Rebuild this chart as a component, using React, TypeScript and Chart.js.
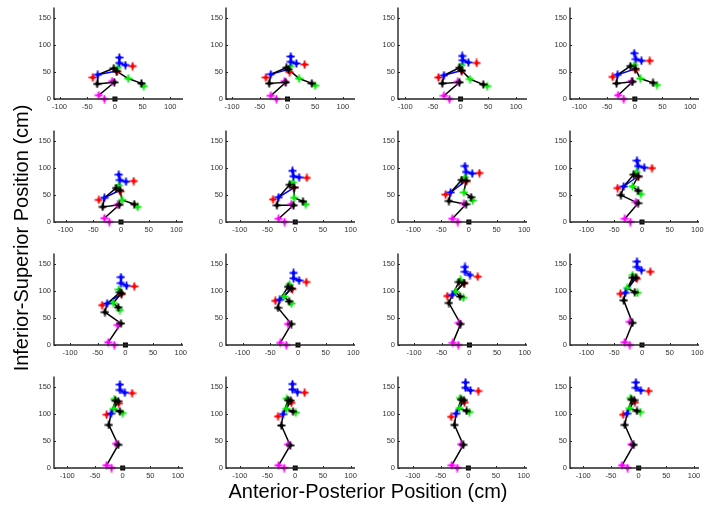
import React, { useEffect, useRef } from 'react';
import { Chart, registerables } from 'chart.js';

Chart.register(...registerables);

type P = [number, number];

// ---- axis data ----
const X_TICKS = [-100, -50, 0, 50, 100];
const Y_TICKS = [0, 50, 100, 150];
const X_MIN = [-110, -111, -113, -117, -121, -125, -128, -130, -129, -130, -129, -130, -124, -125, -127, -124];
const X_SPAN = 233;
const Y_MIN = 0;
const Y_MAX = 170;

// ---- marker data, one entry per panel (row by row) ----
const HEEL: P[] = [[-29, 7], [-30, 6], [-30, 6], [-30, 7], [-30, 7], [-30, 6], [-30, 6], [-31, 6], [-31, 5], [-32, 4], [-30, 4], [-31, 5], [-29, 5], [-30, 5], [-30, 5], [-30, 5]];
const TOE: P[] = [[-19, 0], [-20, 0], [-20, 0], [-20, 0], [-21, 0], [-19, 0], [-20, 0], [-21, 0], [-20, 0], [-21, 0], [-20, 0], [-22, 0], [-20, 0], [-20, 0], [-20, 0], [-20, 0]];
const KNEE_M: P[] = [[-5, 33], [-5, 33], [-5, 32], [-6, 33], [-6, 32], [-7, 33], [-9, 34], [-11, 37], [-14, 37], [-18, 39], [-19, 41], [-22, 43], [-12, 45], [-13, 44], [-13, 44], [-13, 44]];
const KNEE: P[] = [[-1, 31], [-3, 31], [-2, 31], [-4, 32], [-3, 32], [-3, 31], [-5, 33], [-7, 35], [-8, 40], [-12, 39], [-16, 39], [-17, 41], [-8, 43], [-9, 42], [-9, 43], [-9, 43]];
const HIP: P[] = [[-32, 28], [-33, 29], [-33, 29], [-33, 29], [-33, 28], [-33, 31], [-36, 39], [-38, 50], [-37, 61], [-36, 69], [-37, 78], [-33, 83], [-25, 80], [-25, 79], [-25, 80], [-25, 80]];
const BACK: P[] = [[-31, 45], [-30, 46], [-30, 44], [-31, 45], [-30, 45], [-30, 46], [-33, 55], [-33, 66], [-33, 77], [-33, 84], [-31, 93], [-30, 97], [-21, 101], [-22, 100], [-22, 101], [-21, 101]];
const BACK_R: P[] = [[-40, 40], [-39, 40], [-40, 40], [-40, 41], [-40, 41], [-40, 42], [-42, 51], [-44, 63], [-42, 74], [-41, 82], [-40, 91], [-39, 95], [-29, 99], [-31, 96], [-31, 95], [-28, 99]];
const SHOULDER: P[] = [[-2, 57], [-2, 58], [-2, 58], [-8, 61], [-9, 63], [-10, 69], [-13, 78], [-15, 88], [-10, 98], [-18, 108], [-19, 117], [-17, 125], [-13, 125], [-13, 126], [-13, 127], [-13, 127]];
const SHOULDER2: P[] = [[3, 52], [2, 55], [2, 53], [1, 56], [-2, 59], [-2, 64], [-5, 77], [-7, 85], [-7, 96], [-12, 105], [-10, 115], [-11, 125], [-8, 124], [-8, 125], [-8, 126], [-8, 126]];
const SHOULDER_G: P[] = [[5, 58], [5, 61], [2, 63], [-1, 63], [-4, 68], [-4, 74], [-7, 83], [-10, 93], [-12, 103], [-15, 112], [-16, 121], [-17, 130], [-15, 128], [-15, 129], [-15, 130], [-15, 130]];
const SHOULDER_R: P[] = [[4, 51], [4, 50], [2, 52], [1, 54], [-1, 57], [-2, 64], [-5, 75], [-7, 84], [-7, 94], [-10, 104], [-9, 115], [-9, 123], [-7, 120], [-7, 121], [-7, 122], [-7, 122]];
const ELBOW: P[] = [[24, 38], [21, 38], [17, 37], [10, 38], [2, 41], [-2, 45], [-9, 55], [-17, 66], [-22, 78], [-25, 90], [-25, 99], [-27, 106], [-16, 110], [-16, 110], [-16, 111], [-16, 111]];
const WRIST: P[] = [[48, 29], [44, 29], [41, 27], [33, 30], [24, 33], [14, 38], [4, 46], [-7, 58], [-13, 70], [-16, 81], [-17, 90], [-13, 98], [-5, 105], [-4, 105], [-3, 106], [-3, 106]];
const HAND: P[] = [[52, 24], [50, 25], [48, 24], [40, 26], [30, 28], [19, 33], [7, 40], [-2, 52], [-10, 65], [-12, 77], [-11, 88], [-8, 97], [0, 102], [1, 103], [2, 104], [3, 104]];
const HEAD_TOP: P[] = [[8, 77], [6, 79], [3, 80], [-1, 85], [-4, 88], [-5, 95], [-7, 104], [-9, 114], [-8, 126], [-8, 134], [-8, 145], [-9, 155], [-5, 155], [-5, 156], [-5, 159], [-5, 159]];
const HEAD_MID: P[] = [[8, 67], [6, 69], [4, 72], [2, 74], [-2, 78], [-3, 85], [-5, 93], [-7, 104], [-8, 115], [-8, 124], [-8, 136], [-9, 145], [-5, 145], [-5, 146], [-5, 149], [-5, 149]];
const HEAD_FRONT: P[] = [[19, 63], [16, 66], [14, 68], [12, 71], [9, 75], [7, 83], [6, 90], [4, 101], [2, 110], [2, 120], [1, 130], [-1, 139], [4, 140], [4, 141], [4, 144], [4, 144]];
const HEAD_R: P[] = [[32, 61], [31, 64], [29, 67], [27, 71], [23, 76], [21, 82], [19, 91], [18, 100], [16, 109], [15, 117], [15, 127], [15, 136], [17, 139], [17, 140], [18, 143], [18, 143]];
const ORIGIN: P = [0, 0];

// ---- layout ----
const COL_LEFT = [54, 226, 398, 570];
const ROW_ZERO = [99, 222, 345, 468];
const PLOT_W = 129;
const PLOT_H = 93;
const PAD_L = 40;
const PAD_T = 6;
const PAD_R = 8;
const PAD_B = 16;
const CW = PAD_L + PLOT_W + PAD_R;
const CH = PAD_T + PLOT_H + PAD_B;

const AXIS_COLOR = '#262626';
const TICK_COLOR = '#333333';
const FONT = '"Liberation Sans", Arial, sans-serif';

let markerCache: Record<string, HTMLCanvasElement> | null = null;
function markers() {
  if (markerCache) return markerCache;
  const plus = (color: string) => {
    const c = document.createElement('canvas');
    c.width = 9;
    c.height = 9;
    const g = c.getContext('2d')!;
    g.fillStyle = color;
    g.fillRect(0.5, 3.6, 8, 1.8);
    g.fillRect(3.6, 0.5, 1.8, 8);
    g.beginPath();
    g.moveTo(4.5, 1.8);
    g.lineTo(7.2, 4.5);
    g.lineTo(4.5, 7.2);
    g.lineTo(1.8, 4.5);
    g.closePath();
    g.fill();
    return c;
  };
  const sq = document.createElement('canvas');
  sq.width = 7;
  sq.height = 7;
  const g = sq.getContext('2d')!;
  g.fillStyle = '#000';
  g.fillRect(1, 1, 5, 5);
  g.fillStyle = '#444';
  g.fillRect(2.5, 2.5, 2, 2);
  markerCache = {
    black: plus('#000000'),
    blue: plus('#0000ff'),
    green: plus('#00ee00'),
    red: plus('#ff0000'),
    magenta: plus('#ff00ff'),
    square: sq,
  };
  return markerCache;
}

const axesPlugin = {
  id: 'matlabAxes',
  afterDraw(chart: any) {
    const { ctx, chartArea: a, scales } = chart;
    const x = scales.x;
    const y = scales.y;
    ctx.save();
    ctx.strokeStyle = AXIS_COLOR;
    ctx.lineWidth = 1.4;
    ctx.beginPath();
    ctx.moveTo(a.left, a.top);
    ctx.lineTo(a.left, a.bottom);
    ctx.lineTo(a.right, a.bottom);
    ctx.stroke();
    ctx.lineWidth = 1;
    X_TICKS.forEach((v) => {
      const px = Math.round(x.getPixelForValue(v)) + 0.5;
      ctx.beginPath();
      ctx.moveTo(px, a.bottom);
      ctx.lineTo(px, a.bottom - 2);
      ctx.stroke();
    });
    Y_TICKS.forEach((v) => {
      const py = Math.round(y.getPixelForValue(v)) + 0.5;
      ctx.beginPath();
      ctx.moveTo(a.left, py);
      ctx.lineTo(a.left + 2, py);
      ctx.stroke();
    });
    ctx.restore();
  },
};

function Panel({ idx }: { idx: number }) {
  const ref = useRef<HTMLCanvasElement>(null);
  const col = idx % 4;
  const row = Math.floor(idx / 4);
  const left = COL_LEFT[col] - PAD_L;
  const top = ROW_ZERO[row] - PLOT_H - PAD_T;

  useEffect(() => {
    const m = markers();
    const pt = (arr: P[]) => ({ x: arr[idx][0], y: arr[idx][1] });
    const line = (arrs: P[][], color: string) => ({
      data: arrs.map(pt),
      showLine: true,
      borderColor: color,
      borderWidth: 1.5,
      pointRadius: 0,
      fill: false,
      clip: false,
      order: 5,
    });
    const marks = (arrs: P[][], img: HTMLCanvasElement) => ({
      data: arrs.map(pt),
      showLine: false,
      pointStyle: img,
      pointRadius: 3,
      clip: false,
      order: 1,
    });
    const xmin = X_MIN[idx];
    const chart = new Chart(ref.current as HTMLCanvasElement, {
      type: 'scatter',
      data: {
        datasets: [
          line([HEEL, KNEE, HIP, BACK, SHOULDER], '#000000') as any,
          line([SHOULDER2, ELBOW, WRIST], '#000000') as any,
          line([BACK, SHOULDER2], '#0000ff') as any,
          line([HEAD_TOP, HEAD_MID, HEAD_FRONT], '#0000ff') as any,
          marks([KNEE, HIP, SHOULDER, SHOULDER2, WRIST], m.black) as any,
          marks([HEAD_TOP, HEAD_MID, HEAD_FRONT, BACK], m.blue) as any,
          marks([SHOULDER_G, ELBOW, HAND], m.green) as any,
          marks([BACK_R, SHOULDER_R, HEAD_R], m.red) as any,
          marks([HEEL, TOE, KNEE_M], m.magenta) as any,
          { data: [{ x: ORIGIN[0], y: ORIGIN[1] }], showLine: false, pointStyle: m.square, pointRadius: 3, clip: false, order: 0 } as any,
        ],
      },
      options: {
        animation: false,
        responsive: false,
        events: [],
        layout: { padding: { left: 0, top: PAD_T, right: PAD_R, bottom: 0 } },
        plugins: { legend: { display: false }, tooltip: { enabled: false }, title: { display: false } },
        scales: {
          x: {
            type: 'linear',
            min: xmin,
            max: xmin + X_SPAN,
            afterBuildTicks: (s: any) => {
              s.ticks = X_TICKS.map((v) => ({ value: v }));
            },
            afterFit: (s: any) => {
              s.height = PAD_B;
            },
            grid: { display: false, drawTicks: false },
            border: { display: false },
            ticks: {
              color: TICK_COLOR,
              font: { family: FONT, size: 7.5 },
              padding: 3,
              maxRotation: 0,
              autoSkip: false,
              callback: (v: any) => String(v),
            },
          },
          y: {
            type: 'linear',
            min: Y_MIN,
            max: Y_MAX,
            afterBuildTicks: (s: any) => {
              s.ticks = Y_TICKS.map((v) => ({ value: v }));
            },
            afterFit: (s: any) => {
              s.width = PAD_L;
            },
            grid: { display: false, drawTicks: false },
            border: { display: false },
            ticks: {
              color: TICK_COLOR,
              font: { family: FONT, size: 7.5 },
              padding: 3,
              autoSkip: false,
              callback: (v: any) => String(v),
            },
          },
        },
      },
      plugins: [axesPlugin],
    } as any);
    return () => chart.destroy();
  }, [idx]);

  return (
    <canvas
      ref={ref}
      width={CW}
      height={CH}
      style={{ position: 'absolute', left, top, width: CW, height: CH }}
    />
  );
}

export default function App() {
  const panels = Array.from({ length: 16 }, (_, i) => i);
  return (
    <div style={{ position: 'fixed', left: 0, top: 0, width: 715, height: 508, background: '#ffffff', overflow: 'hidden' }}>
      {panels.map((i) => (
        <Panel key={i} idx={i} />
      ))}
      <div
        style={{
          position: 'absolute',
          left: 168,
          top: 481,
          width: 400,
          textAlign: 'center',
          font: `20px ${FONT}`,
          lineHeight: '20px',
          color: '#000',
          whiteSpace: 'nowrap',
        }}
      >
        Anterior-Posterior Position (cm)
      </div>
      <div
        style={{
          position: 'absolute',
          left: 21 - 200,
          top: 238 - 10,
          width: 400,
          textAlign: 'center',
          font: `20px ${FONT}`,
          lineHeight: '20px',
          color: '#000',
          whiteSpace: 'nowrap',
          transform: 'rotate(-90deg)',
          transformOrigin: '50% 50%',
        }}
      >
        Inferior-Superior Position (cm)
      </div>
    </div>
  );
}
